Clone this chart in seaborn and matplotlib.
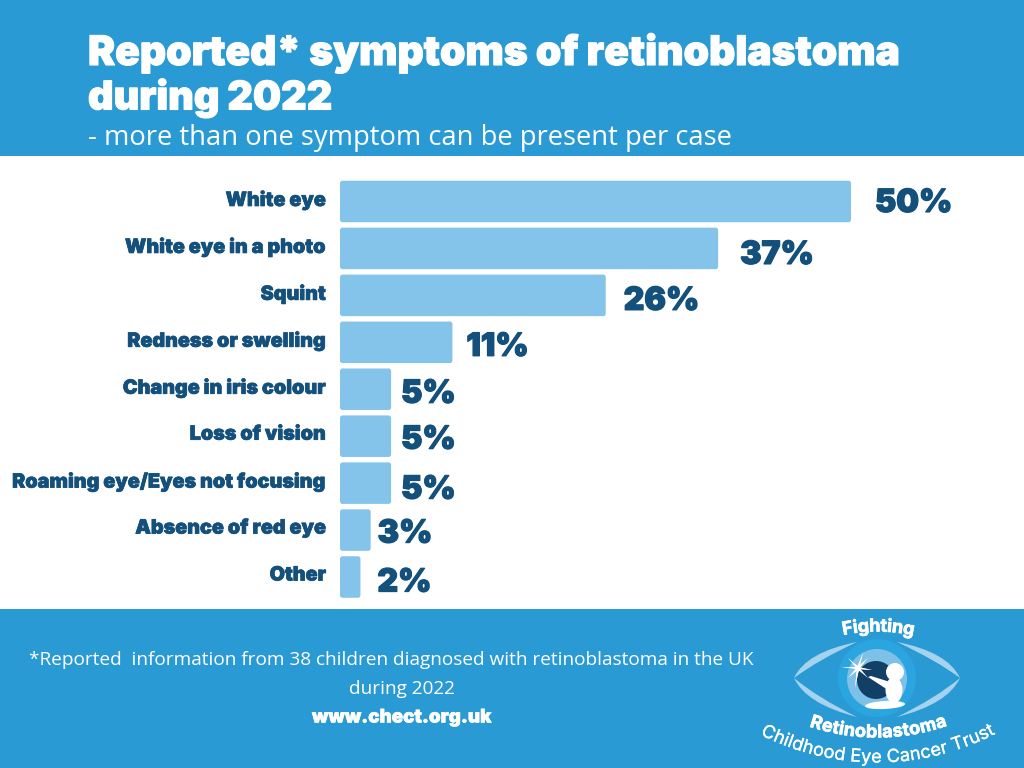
import numpy as np
import pandas as pd
import seaborn as sns
import matplotlib.pyplot as plt
import matplotlib.patheffects as pe
from matplotlib import transforms
from matplotlib.font_manager import FontProperties
from matplotlib.patches import Circle, FancyBboxPatch, PathPatch, Polygon, Ellipse
from matplotlib.path import Path
from matplotlib.textpath import TextPath

symptoms = ['White eye', 'White eye in a photo', 'Squint', 'Redness or swelling',
            'Change in iris colour', 'Loss of vision', 'Roaming eye/Eyes not focusing',
            'Absence of red eye', 'Other']
percent = [50, 37, 26, 11, 5, 5, 5, 3, 2]

BLUE = '#2a9ad4'
BAR = '#85c4ea'
NAVY = '#14507c'
PALE = '#a5d3ef'
HEAVY = 'Inter'
W, H = 1024, 768

df = pd.DataFrame({'symptom': symptoms, 'percent': percent})

sns.set_theme(style='white')
plt.rcParams['font.family'] = ['Open Sans', 'DejaVu Sans']


def thick(color, w=0.7):
    return [pe.withStroke(linewidth=w, foreground=color)]


fig = plt.figure(figsize=(W / 100, H / 100), dpi=100, facecolor='white')

# chart, axes span the white band right of the labels
ax = fig.add_axes([340 / W, 1 - 600.5 / H, 684 / W, 422.5 / H])
sns.barplot(data=df, x='percent', y='symptom', color=BAR, saturation=1, width=0.885, ax=ax)
ax.set_xlim(0, 684 / 10.22)
ax.set_xlabel('')
ax.set_ylabel('')
ax.xaxis.set_visible(False)
sns.despine(ax=ax, left=True, bottom=True)
ax.tick_params(axis='y', length=0, pad=10)
shift = transforms.ScaledTranslation(0, 2.5 / 72, fig.dpi_scale_trans)
for lab in ax.get_yticklabels():
    lab.set_family(HEAVY)
    lab.set_fontsize(14.2)
    lab.set_fontweight('black')
    lab.set_color(NAVY)
    lab.set_path_effects(thick(NAVY, 0.5))
    lab.set_transform(lab.get_transform() + shift)

# swap seaborn's square bars for slightly rounded ones of the same size
for bar in list(ax.patches):
    x0, y0, w, h = bar.get_x(), bar.get_y(), bar.get_width(), bar.get_height()
    bar.set_visible(False)
    ax.add_patch(FancyBboxPatch((x0, y0), w, h, boxstyle='round,pad=0,rounding_size=0.25',
                                mutation_aspect=0.218, fc=BAR, ec='none'))

# value labels were placed by hand in the original
pads = [24, 22, 18, 14, 10, 10, 10, 7, 17]
drops = [2, 7, 6, 5, 5, 4, 7, 4, 6]
for i, (v, p, d) in enumerate(zip(percent, pads, drops)):
    ax.annotate(f'{v}%', (v, i), xytext=(p * 0.72, -d * 0.72), textcoords='offset points',
                va='center', ha='left', fontsize=23, fontweight='black', color=NAVY,
                family=HEAVY, path_effects=thick(NAVY, 0.9))

# bands, text and logo in pixel coordinates
bg = fig.add_axes([0, 0, 1, 1], zorder=-1)
bg.set_xlim(0, W)
bg.set_ylim(H, 0)
bg.axis('off')
bg.fill_between([0, W], 0, 156, color=BLUE, lw=0)
bg.fill_between([0, W], 609, H, color=BLUE, lw=0)

top = fig.add_axes([0, 0, 1, 1], zorder=3)
top.set_xlim(0, W)
top.set_ylim(H, 0)
top.axis('off')
top.patch.set_alpha(0)

top.text(88, 53, 'Reported* symptoms of retinoblastoma', color='white', fontsize=29.3,
         fontweight='black', va='center', family=HEAVY, path_effects=thick('white', 0.8))
top.text(88, 98, 'during 2022', color='white', fontsize=28.5, fontweight='black', va='center',
         family=HEAVY, path_effects=thick('white', 0.8))
top.text(88, 138, '- more than one symptom can be present per case', color='white',
         fontsize=19.7, va='center')
top.text(391, 660, '*Reported  information from 38 children diagnosed with retinoblastoma in the UK',
         color='white', fontsize=13.65, ha='center', va='center')
top.text(402, 689, 'during 2022', color='white', fontsize=13.65, ha='center', va='center')
top.text(402, 718, 'www.chect.org.uk', color='white', fontsize=13.5, fontweight='black',
         ha='center', va='center', family=HEAVY, path_effects=thick('white', 0.4))


def arc_text(s, cx, cy, r, size, bulge_up, weight='bold', stroke=0.5):
    fp = FontProperties(family=HEAVY, weight=weight, size=size)
    dot = TextPath((0, 0), '.', prop=fp).get_extents().width * 100 / 72
    full = TextPath((0, 0), s, prop=fp).get_extents().width * 100 / 72
    pos = 0
    for i in range(len(s)):
        pre = TextPath((0, 0), s[:i + 1] + '.', prop=fp).get_extents().width * 100 / 72 - dot
        mid = pos + (pre - pos) / 2
        pos = pre
        ang = (mid - full / 2) / r
        if bulge_up:
            x, y, rot = cx + r * np.sin(ang), cy - r * np.cos(ang), -np.degrees(ang)
        else:
            x, y, rot = cx + r * np.sin(ang), cy + r * np.cos(ang), np.degrees(ang)
        top.text(x, y, s[i], fontproperties=fp, color='white', rotation=rot,
                 rotation_mode='anchor', ha='center', va='center',
                 path_effects=thick('white', stroke))


# eye outline, two pale crescents
def crescent(p0, c1, p1, c2):
    verts = [p0, c1, p1, c2, p0]
    codes = [Path.MOVETO, Path.CURVE3, Path.CURVE3, Path.CURVE3, Path.CURVE3]
    return PathPatch(Path(verts, codes), fc=PALE, ec='none')


top.add_patch(crescent((857, 642), (806, 652), (794, 678), (818, 660)))
top.add_patch(crescent((794, 678), (806, 704), (857, 717), (818, 698)))
top.add_patch(crescent((897, 642), (948, 652), (960, 678), (936, 660)))
top.add_patch(crescent((960, 678), (948, 704), (897, 717), (936, 698)))
top.add_patch(Circle((877, 678), 39, fc='#2ba5e0', ec='none'))
top.add_patch(Circle((877, 679), 30, fc='#7dc0e8', ec='none'))
top.add_patch(Circle((876, 680), 19, fc='#123f66', ec='none'))
# baby
top.add_patch(Circle((895, 672), 9, fc='white', ec='none'))
top.add_patch(Ellipse((894, 690), 17, 26, fc='white', ec='none'))
top.add_patch(Ellipse((885, 705), 40, 8, angle=-3, fc='white', ec='none'))
top.add_patch(Polygon([(868, 677), (871, 676), (890, 682), (888, 690)], fc='white', ec='none'))
# sparkle, thin rays
for ex, ey in [(842, 667), (872, 670), (863, 653), (855, 688), (848, 658), (868, 678), (848, 678), (868, 658)]:
    top.add_patch(Polygon([(857, 667), (859, 669), (ex, ey)], fc='white', ec='none'))
    top.add_patch(Polygon([(859, 667), (857, 669), (ex, ey)], fc='white', ec='none'))
top.add_patch(Circle((858, 668), 2.5, fc='white', ec='none'))

arc_text('Fighting', 877, 797, 170, 13, True)
arc_text('Retinoblastoma', 877, 523, 210, 13, False)
arc_text('Childhood Eye Cancer Trust', 877, 504, 254, 13, False, weight='regular', stroke=0.2)

fig.savefig('out.png', dpi=100)
